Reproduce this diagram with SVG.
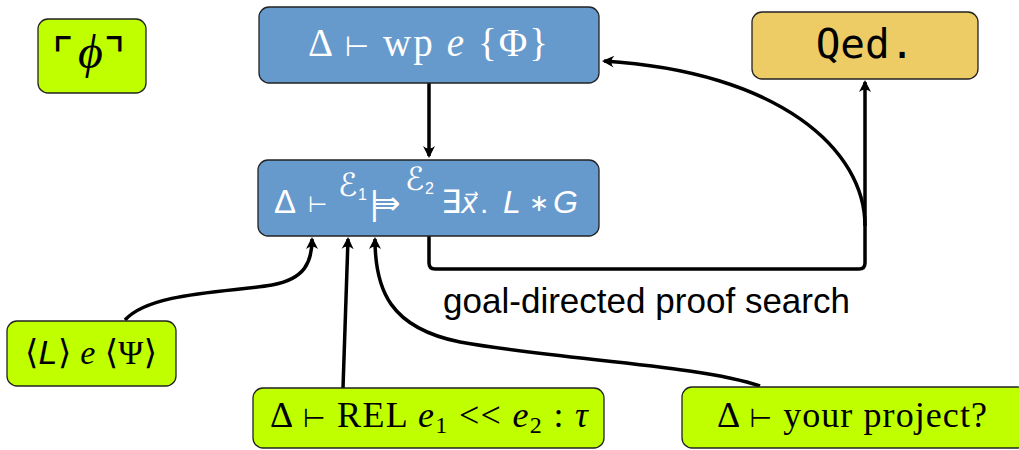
<svg xmlns="http://www.w3.org/2000/svg" width="1019" height="450" viewBox="0 0 1019 450">
<style>
.box{stroke:#222;stroke-width:1.3}
.blue{fill:#6699cc}
.green{fill:#bfff00}
.gold{fill:#edcc66}
.serif{font-family:"Liberation Serif","DejaVu Serif",serif}
.sans{font-family:"Liberation Sans","DejaVu Sans",sans-serif}
.dj{font-family:"DejaVu Sans",sans-serif}
.w{fill:#fff}
.k{fill:#000}
.it{font-style:italic}
.conn{fill:none;stroke:#000;stroke-width:3.5}
</style>
<defs>
<marker id="arr" viewBox="-14 -7 16 14" refX="-2" refY="0" markerWidth="16" markerHeight="14" markerUnits="userSpaceOnUse" orient="auto">
<path d="M0,0 L-12,-6 Q-7,0 -12,6 Z" fill="#000"/>
</marker>
</defs>
<g id="connectors">
<path class="conn" d="M429 83 L429 156" marker-end="url(#arr)"/>
<path class="conn" d="M429 236 L429 263 Q429 269 435 269 L859 269 Q865 269 865 263 L865 82" marker-end="url(#arr)"/>
<path class="conn" d="M865 226 C865 150 780 72 604 61" marker-end="url(#arr)"/>
<path class="conn" d="M125 320 C150 292 230 292 272 285 C305 279 312 262 312 239" marker-end="url(#arr)"/>
<path class="conn" d="M343 388 L348 239" marker-end="url(#arr)"/>
<path class="conn" d="M760 386 C700 365 560 360 460 342 C390 328 375 290 375 239" marker-end="url(#arr)"/>
<text class="sans k" x="443" y="313" font-size="35" textLength="407">goal-directed proof search</text>
</g>
<g id="phi">
<rect class="box green" x="38" y="19" width="108" height="74" rx="10"/>
<text class="k" font-size="46"><tspan class="dj" x="52" y="71">⌜</tspan><tspan class="serif it" x="78" y="68" font-size="48">ϕ</tspan><tspan class="dj" x="104" y="71">⌝</tspan></text>
</g>
<g id="wp">
<rect class="box blue" x="259" y="7" width="340" height="76" rx="10"/>
<text class="serif w" x="308" y="56" font-size="39" textLength="240">Δ <tspan class="dj" font-size="28">⊢</tspan> wp <tspan class="it">e</tspan> {Φ}</text>
</g>
<g id="qed">
<rect class="box gold" x="752" y="12" width="226" height="67" rx="10"/>
<text class="k" x="865" y="58" font-size="41" text-anchor="middle" font-family="DejaVu Sans Mono, monospace">Qed.</text>
</g>
<g id="entail">
<rect class="box blue" x="258" y="160" width="341" height="76" rx="10"/>
<text class="sans w" font-size="30"><tspan x="274" y="213" font-size="33">Δ</tspan><tspan x="308" y="212" font-size="22" class="dj">⊢</tspan><tspan x="338" y="196" font-size="32" class="it">ℰ</tspan><tspan x="358" y="200" font-size="16">1</tspan><tspan x="369" y="214" font-size="32" class="dj" letter-spacing="-6">|⇛</tspan><tspan x="405" y="190" font-size="32" class="it">ℰ</tspan><tspan x="425" y="194" font-size="16">2</tspan><tspan x="441" y="213" font-size="32">∃</tspan><tspan x="461" y="213" class="it dj" font-size="28">x⃗</tspan><tspan x="480" y="213">.</tspan><tspan x="503" y="213" class="it" font-size="32">L</tspan><tspan x="529" y="211" font-size="24">∗</tspan><tspan x="553" y="213" class="it" font-size="32">G</tspan></text>
</g>
<g id="hoare">
<rect class="box green" x="7" y="321" width="169" height="65" rx="10"/>
<text class="serif k" x="25" y="364" font-size="34" textLength="132">⟨<tspan class="sans it">L</tspan>⟩ <tspan class="it">e</tspan> ⟨Ψ⟩</text>
</g>
<g id="rel">
<rect class="box green" x="253" y="388" width="351" height="60" rx="10"/>
<text class="serif k" x="270" y="427" font-size="36" textLength="318">Δ <tspan class="dj" font-size="26">⊢</tspan> REL <tspan class="it">e</tspan><tspan font-size="24" dy="6">1</tspan><tspan dy="-6"> &lt;&lt; </tspan><tspan class="it">e</tspan><tspan font-size="24" dy="6">2</tspan><tspan dy="-6"> : </tspan><tspan class="it">τ</tspan></text>
</g>
<g id="project">
<rect class="box green" x="682" y="387" width="345" height="61" rx="10"/>
<text class="serif k" x="717" y="427" font-size="36" textLength="270">Δ <tspan class="dj" font-size="26">⊢</tspan> your project?</text>
</g>
</svg>
